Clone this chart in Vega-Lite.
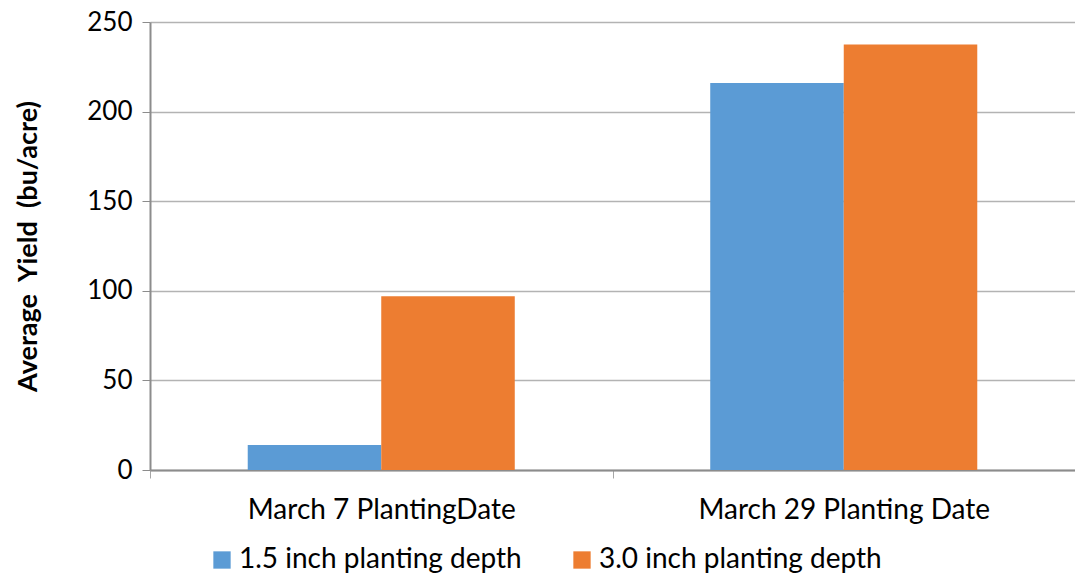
{
  "$schema": "https://vega.github.io/schema/vega-lite/v6.json",
  "autosize": "none",
  "width": 925,
  "height": 448,
  "padding": {"left": 150, "top": 22, "right": 0, "bottom": 105},
  "background": "white",
  "config": {
    "view": {"stroke": null},
    "font": "Lato",
    "axis": {"labelFont": "Lato", "titleFont": "Lato", "labelColor": "#000000", "titleColor": "#000000"}
  },
  "data": {
    "values": [
      {"date": "March 7 PlantingDate", "depth": "1.5 inch planting depth", "yield": 14},
      {"date": "March 7 PlantingDate", "depth": "3.0 inch planting depth", "yield": 97},
      {"date": "March 29 Planting Date", "depth": "1.5 inch planting depth", "yield": 216},
      {"date": "March 29 Planting Date", "depth": "3.0 inch planting depth", "yield": 237.5}
    ]
  },
  "mark": {"type": "bar"},
  "encoding": {
    "x": {
      "field": "date",
      "type": "nominal",
      "sort": ["March 7 PlantingDate", "March 29 Planting Date"],
      "scale": {"paddingInner": 0, "paddingOuter": 0},
      "axis": {
        "title": null,
        "labelAngle": 0,
        "labelFontSize": 28,
        "labelPadding": 18,
        "labelLimit": 0,
        "tickBand": "extent",
        "tickColor": "#a6a6a6",
        "tickSize": 8,
        "domainColor": "#8c8c8c",
        "domainWidth": 2,
        "grid": false
      }
    },
    "xOffset": {
      "field": "depth",
      "type": "nominal",
      "scale": {"paddingInner": 0, "paddingOuter": 0.732}
    },
    "y": {
      "field": "yield",
      "type": "quantitative",
      "scale": {"domain": [0, 250], "nice": false},
      "axis": {
        "title": "Average\u00a0\u00a0Yield\u00a0\u00a0(bu/acre)",
        "titleFontSize": 27,
        "titleFontWeight": "bold",
        "titlePadding": 44,
        "labelFontSize": 26,
        "labelPadding": 10,
        "values": [0, 50, 100, 150, 200, 250],
        "tickSize": 8,
        "tickColor": "#8c8c8c",
        "domainColor": "#8c8c8c",
        "domainWidth": 2,
        "grid": true,
        "gridColor": "#b3b3b3",
        "gridWidth": 1.5
      }
    },
    "color": {
      "field": "depth",
      "type": "nominal",
      "scale": {"domain": ["1.5 inch planting depth", "3.0 inch planting depth"], "range": ["#5B9BD5", "#ED7D31"]},
      "legend": {
        "title": null,
        "orient": "none",
        "legendX": 58,
        "legendY": 524,
        "direction": "horizontal",
        "symbolType": "square",
        "symbolSize": 300,
        "symbolStrokeWidth": 0,
        "labelFontSize": 28,
        "labelLimit": 0,
        "labelOffset": 3,
        "labelColor": "#000000",
        "columnPadding": 46
      }
    }
  }
}
